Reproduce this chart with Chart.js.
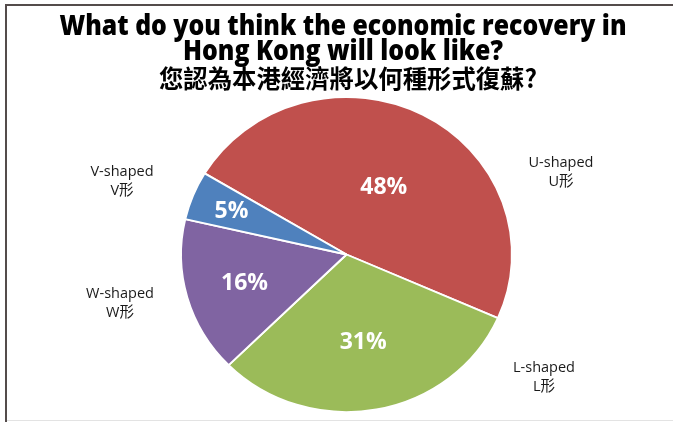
<!DOCTYPE html>
<html>
<head>
<meta charset="utf-8">
<script src="https://cdn.jsdelivr.net/npm/chart.js@4/dist/chart.umd.min.js"></script>
<style>
  html, body { margin: 0; padding: 0; background: #fff; }
  #wrap { position: relative; width: 673px; height: 422px; overflow: hidden; }
  #frameTop { position: absolute; left: 5px; top: 4px; right: 0; height: 2px; background: #544c4b; }
  #frameLeft { position: absolute; left: 5px; top: 4px; width: 2px; bottom: 0; background: #544c4b; }
  #frameBottom { position: absolute; left: 7px; right: 0; top: 420px; height: 1px; background: #e3e3e3; }
  canvas { position: absolute; left: 0; top: 0; }
</style>
</head>
<body>
<div id="wrap">
  <canvas id="c" width="673" height="422"></canvas>
  <div id="frameTop"></div>
  <div id="frameLeft"></div>
  <div id="frameBottom"></div>
</div>
<script>
// Survey answers, in drawing order (clockwise from the upper left)
const categories = ['U-shaped', 'L-shaped', 'W-shaped', 'V-shaped'];
const categoriesZh = ['U形', 'L形', 'W形', 'V形'];
const shares = [48, 31, 16, 5];
const sliceColors = ['#C0504D', '#9BBB59', '#8064A2', '#4F81BD'];

const titleLines = [
  'What do you think the economic recovery in',
  'Hong Kong will look like?',
  '您認為本港經濟將以何種形式復蘇?'
];

// Pie is drawn slightly flattened vertically
const SQUASH_Y = 0.952;
// Percent labels sit along each slice's middle angle at this fraction of the radius
const insideFrac = [0.49, 0.56, 0.64, 0.75];
// Category captions, offset from the pie centre
const captionOffset = [[214.5, -83], [197.5, 122.5], [-226.5, 48.5], [-224.5, -74]];

const titlePlugin = {
  id: 'titleBlock',
  beforeDraw(chart) {
    const ctx = chart.ctx;
    const specs = [
      { font: '800 28px "Open Sans"', width: 567, cx: 343, base: 35 },
      { font: '800 28px "Open Sans"', width: 320, cx: 343, base: 60 },
      { font: 'bold 25px "Noto Sans CJK TC"', width: 378, cx: 348, base: 88 }
    ];
    ctx.save();
    ctx.fillStyle = '#000';
    ctx.textBaseline = 'alphabetic';
    ctx.textAlign = 'left';
    titleLines.forEach((t, i) => {
      const s = specs[i];
      ctx.font = s.font;
      const w = ctx.measureText(t).width;
      const k = s.width / w;
      ctx.save();
      ctx.translate(s.cx - s.width / 2, s.base);
      ctx.scale(k, 1);
      ctx.fillText(t, 0, 0);
      ctx.restore();
    });
    ctx.restore();
  }
};

const squashPlugin = {
  id: 'squash',
  beforeDatasetsDraw(chart) {
    const arc = chart.getDatasetMeta(0).data[0];
    const ctx = chart.ctx;
    ctx.save();
    ctx.translate(arc.x, arc.y);
    ctx.scale(1, SQUASH_Y);
    ctx.translate(-arc.x, -arc.y);
  },
  afterDatasetsDraw(chart) {
    chart.ctx.restore();
  }
};

const labelPlugin = {
  id: 'sliceLabels',
  afterDraw(chart) {
    const ctx = chart.ctx;
    const arcs = chart.getDatasetMeta(0).data;
    ctx.save();
    ctx.textAlign = 'center';
    ctx.textBaseline = 'middle';
    arcs.forEach((a, i) => {
      const mid = (a.startAngle + a.endAngle) / 2;
      const r = a.outerRadius * insideFrac[i];
      const x = a.x + Math.cos(mid) * r;
      const y = a.y + Math.sin(mid) * r * SQUASH_Y;
      ctx.fillStyle = '#fff';
      ctx.font = 'bold 23px "Open Sans"';
      ctx.fillText(shares[i] + '%', x, y + 1);

      const cx = a.x + captionOffset[i][0];
      const cy = a.y + captionOffset[i][1];
      ctx.fillStyle = '#1a1a1a';
      ctx.font = '14.5px "Open Sans", "Noto Sans CJK TC"';
      ctx.fillText(categories[i], cx, cy - 9);
      ctx.fillText(categoriesZh[i], cx, cy + 10);
    });
    ctx.restore();
  }
};

new Chart(document.getElementById('c'), {
  type: 'pie',
  data: {
    labels: categories,
    datasets: [{
      data: shares,
      backgroundColor: sliceColors,
      borderColor: '#ffffff',
      borderWidth: 2,
      radius: 165.5
    }]
  },
  options: {
    responsive: false,
    animation: false,
    rotation: 301,
    layout: { padding: { left: 20, right: 0, top: 87, bottom: 0 } },
    plugins: {
      legend: { display: false },
      tooltip: { enabled: false },
      title: { display: false }
    }
  },
  plugins: [titlePlugin, squashPlugin, labelPlugin]
});
</script>
</body>
</html>
